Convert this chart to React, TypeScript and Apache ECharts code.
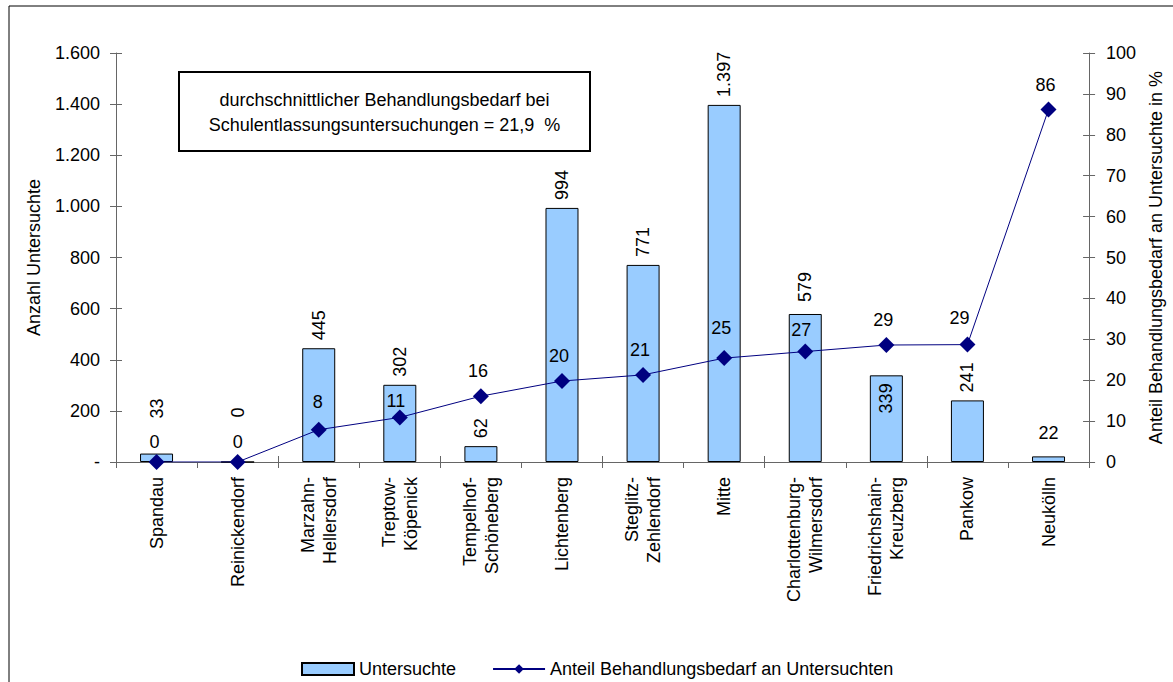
import React, { useEffect, useRef } from "react";
import * as echarts from "echarts";

const categories = [
  "Spandau",
  "Reinickendorf",
  "Marzahn-\nHellersdorf",
  "Treptow-\nKöpenick",
  "Tempelhof-\nSchöneberg",
  "Lichtenberg",
  "Steglitz-\nZehlendorf",
  "Mitte",
  "Charlottenburg-\nWilmersdorf",
  "Friedrichshain-\nKreuzberg",
  "Pankow",
  "Neukölln",
];

const examined = [33, 0, 445, 302, 62, 994, 771, 1397, 579, 339, 241, 22];
const sharePct = [0, 0, 7.9, 10.9, 16.1, 19.8, 21.3, 25.4, 27.0, 28.6, 28.7, 86.2];

const leftMin = 0;
const leftMax = 1600;
const leftStep = 200;
const rightMin = 0;
const rightMax = 100;
const rightStep = 10;

const seriesNames = ["Untersuchte", "Anteil Behandlungsbedarf an Untersuchten"];
const leftAxisName = "Anzahl Untersuchte";
const rightAxisName = "Anteil Behandlungsbedarf an Untersuchte in %";
const noteLines = [
  "durchschnittlicher Behandlungsbedarf bei",
  "Schulentlassungsuntersuchungen = 21,9  %",
];

// label placement tweaks (index -> override)
const barLabelTweaks: Record<number, any> = {
  0: { distance: 35 },
  1: { distance: 44 },
  8: { distance: 12 },
  9: { position: "insideTop", align: "right", distance: 8 },
  11: { rotate: 0, align: "center", verticalAlign: "bottom", distance: 14 },
};
const lineLabelTweaks: Record<number, { distance: number; dx: number }> = {
  0: { distance: 3, dx: -2 },
  1: { distance: 3, dx: 0 },
  2: { distance: 11, dx: -1 },
  3: { distance: -1, dx: -4 },
  7: { distance: 13, dx: -3 },
  8: { distance: 5, dx: -4 },
  10: { distance: 10, dx: -8 },
  11: { distance: 7, dx: -3 },
};

const FONT = "'Liberation Sans', Arial, Helvetica, sans-serif";
const AXIS_COLOR = "#666666";

function fmtThousands(v: number): string {
  return String(v).replace(/\B(?=(\d{3})+(?!\d))/g, ".");
}

export default function App() {
  const ref = useRef<HTMLDivElement>(null);

  useEffect(() => {
    if (!ref.current) return;
    const chart = echarts.init(ref.current, undefined, { renderer: "svg" });

    const barData = examined.map((v, i) => {
      const t = barLabelTweaks[i];
      return t ? { value: v, label: { ...t } } : { value: v };
    });
    const lineData = sharePct.map((v, i) => {
      const t = lineLabelTweaks[i] || { distance: 8, dx: -3 };
      return { value: v, label: { distance: t.distance, offset: [t.dx, 0] } };
    });

    const axisLineStyle = { color: AXIS_COLOR, width: 1 };

    chart.setOption({
      animation: false,
      backgroundColor: "#ffffff",
      textStyle: { fontFamily: FONT },
      grid: { left: 116, right: 70, top: 53, bottom: 220, containLabel: false },
      legend: {
        left: 296,
        top: 655,
        itemWidth: 52,
        itemHeight: 12,
        itemGap: 36,
        textStyle: { fontSize: 18, color: "#000", fontFamily: FONT },
        data: [{ name: seriesNames[0], icon: "rect" }, { name: seriesNames[1] }],
      },
      xAxis: [
        {
          type: "category",
          data: categories,
          position: "bottom",
          axisLine: { show: true, lineStyle: axisLineStyle },
          axisTick: { show: true, length: 6, lineStyle: axisLineStyle },
          axisLabel: {
            rotate: 90,
            margin: 15,
            fontSize: 18,
            lineHeight: 22,
            color: "#000",
            fontFamily: FONT,
            interval: 0,
          },
          splitLine: { show: false },
        },
        {
          type: "category",
          data: categories,
          position: "bottom",
          axisLine: { show: false },
          axisTick: { show: true, inside: true, length: 6, lineStyle: axisLineStyle },
          axisLabel: { show: false },
          splitLine: { show: false },
        },
      ],
      yAxis: [
        {
          type: "value",
          position: "left",
          min: leftMin,
          max: leftMax,
          interval: leftStep,
          name: leftAxisName,
          nameLocation: "middle",
          nameRotate: 90,
          nameGap: 73,
          nameTextStyle: { fontSize: 18, color: "#000", fontFamily: FONT },
          axisLine: { show: true, lineStyle: axisLineStyle },
          axisTick: { show: true, length: 6, lineStyle: axisLineStyle },
          axisLabel: {
            fontSize: 18,
            color: "#000",
            margin: 16,
            fontFamily: FONT,
            formatter: (v: number) => (v === 0 ? "-" : fmtThousands(v)),
          },
          splitLine: { show: false },
        },
        {
          type: "value",
          position: "right",
          min: rightMin,
          max: rightMax,
          interval: rightStep,
          name: rightAxisName,
          nameLocation: "middle",
          nameRotate: 90,
          nameGap: 35,
          nameTextStyle: { fontSize: 18, color: "#000", fontFamily: FONT },
          axisLine: { show: true, lineStyle: axisLineStyle },
          axisTick: { show: true, length: 6, lineStyle: axisLineStyle },
          axisLabel: { fontSize: 18, color: "#000", margin: 17, fontFamily: FONT },
          splitLine: { show: false },
        },
        {
          type: "value",
          position: "left",
          min: leftMin,
          max: leftMax,
          interval: leftStep,
          axisLine: { show: false },
          axisTick: { show: true, inside: true, length: 6, lineStyle: axisLineStyle },
          axisLabel: { show: false },
          splitLine: { show: false },
        },
        {
          type: "value",
          position: "right",
          min: rightMin,
          max: rightMax,
          interval: rightStep,
          axisLine: { show: false },
          axisTick: { show: true, inside: true, length: 6, lineStyle: axisLineStyle },
          axisLabel: { show: false },
          splitLine: { show: false },
        },
      ],
      series: [
        {
          name: seriesNames[0],
          type: "bar",
          xAxisIndex: 0,
          yAxisIndex: 0,
          barWidth: 33,
          data: barData,
          itemStyle: { color: "#99CCFF", borderColor: "#000000", borderWidth: 1 },
          label: {
            show: true,
            position: "top",
            rotate: 90,
            align: "left",
            verticalAlign: "middle",
            distance: 8,
            fontSize: 18,
            color: "#000",
            fontFamily: FONT,
            formatter: (p: any) => fmtThousands(p.value),
          },
          z: 2,
        },
        {
          name: seriesNames[1],
          type: "line",
          xAxisIndex: 0,
          yAxisIndex: 1,
          data: lineData,
          symbol: "diamond",
          symbolSize: 16,
          lineStyle: { color: "#000080", width: 1 },
          itemStyle: { color: "#000080" },
          label: {
            show: true,
            position: "top",
            fontSize: 18,
            color: "#000",
            fontFamily: FONT,
            formatter: (p: any) => String(Math.round(p.value)),
          },
          z: 3,
        },
      ],
      graphic: [
        {
          type: "rect",
          shape: { x: 9, y: 6, width: 1200, height: 720 },
          style: { fill: "none", stroke: "#000", lineWidth: 1 },
          silent: true,
          z: 0,
        },
        {
          type: "group",
          z: 10,
          children: [
            {
              type: "rect",
              shape: { x: 179, y: 72, width: 411, height: 79 },
              style: { fill: "#fff", stroke: "#000", lineWidth: 2 },
            },
            {
              type: "text",
              x: 384.5,
              y: 112,
              style: {
                text: noteLines.join("\n"),
                font: `18px ${FONT}`,
                fill: "#000",
                align: "center",
                verticalAlign: "middle",
                lineHeight: 25,
              },
            },
          ],
        },
      ],
    });

    return () => chart.dispose();
  }, []);

  return (
    <div
      ref={ref}
      style={{ position: "fixed", left: 0, top: 0, width: 1173, height: 682, background: "#fff" }}
    />
  );
}
